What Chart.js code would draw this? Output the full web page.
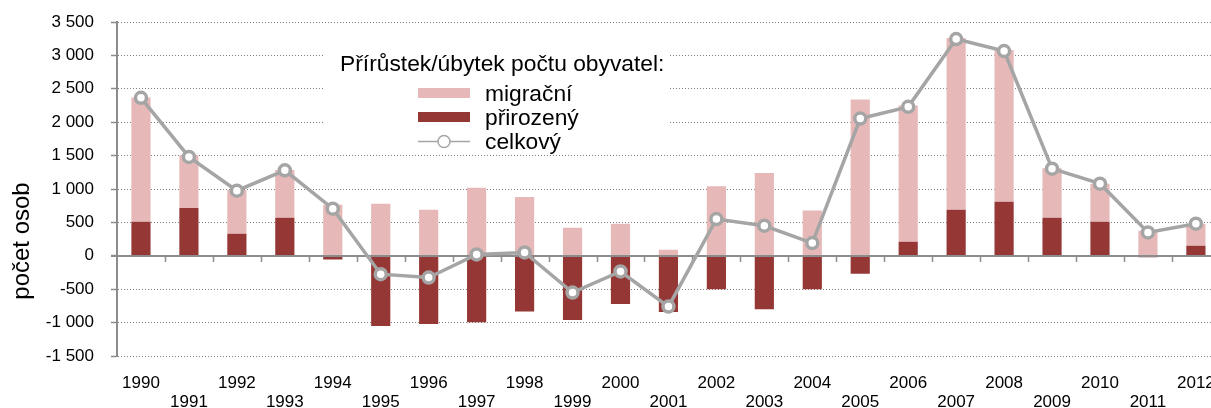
<!DOCTYPE html>
<html>
<head>
<meta charset="utf-8">
<script src="https://cdn.jsdelivr.net/npm/chart.js@4/dist/chart.umd.min.js"></script>
<style>
  html, body { margin: 0; padding: 0; background: #fff; overflow: hidden; }
  #wrap { width: 1233px; height: 408px; }
</style>
</head>
<body>
<div id="wrap"><canvas id="graf" width="1233" height="408"></canvas></div>
<script>
// data
const roky = ['1990','1991','1992','1993','1994','1995','1996','1997','1998','1999','2000','2001',
              '2002','2003','2004','2005','2006','2007','2008','2009','2010','2011','2012'];
const migracni  = [1860, 790, 655, 715, 765, 780, 690, 1020, 880, 420, 480, 90,
                   1040, 1240, 680, 2340, 2040, 2570, 2270, 740, 570, 375, 330];
const prirozeny = [510, 715, 330, 570, -55, -1050, -1020, -995, -835, -960, -720, -840,
                   -500, -800, -500, -270, 210, 690, 810, 570, 510, -20, 150];
const celkovy   = [2365, 1480, 975, 1280, 705, -275, -325, 20, 50, -550, -235, -760,
                   550, 450, 190, 2055, 2230, 3245, 3065, 1305, 1080, 350, 480];
const legendaNadpis = 'Přírůstek/úbytek počtu obyvatel:';
const osaNadpis = 'počet osob';

const FONT = 'Liberation Sans, Arial, sans-serif';
const SEDA = '#a5a5a5';
const OSA = '#8c8c8c';

// cislo s mezerou jako oddelovac tisicu
function formatCislo(v) {
    var s = String(Math.abs(v)).replace(/\B(?=(\d{3})+(?!\d))/g, ' ');
    return (v < 0 ? '-' : '') + s;
}

// nulova osa + carky mezi kategoriemi (kresli se pres sloupce, pod carou)
const nulovaOsa = {
    id: 'nulovaOsa',
    beforeDatasetDraw(chart, args) {
        if (args.meta.type !== 'line') return;
        const ctx = chart.ctx;
        const x = chart.scales.x, y = chart.scales.y;
        const y0 = Math.round(y.getPixelForValue(0));
        ctx.save();
        ctx.strokeStyle = OSA;
        ctx.lineWidth = 2;
        ctx.beginPath();
        ctx.moveTo(x.left - 6, y0);
        ctx.lineTo(x.right, y0);
        ctx.stroke();
        ctx.lineWidth = 1.5;
        for (let i = 1; i < roky.length; i++) {
            const px = Math.round((x.getPixelForTick(i - 1) + x.getPixelForTick(i)) / 2) + 0.5;
            ctx.beginPath();
            ctx.moveTo(px, y0);
            ctx.lineTo(px, y0 + 6);
            ctx.stroke();
        }
        ctx.restore();
    }
};

// legenda uvnitr grafu + popisek osy y
const legenda = {
    id: 'legenda',
    afterDraw(chart) {
        const ctx = chart.ctx;
        const ds = chart.data.datasets;
        ctx.save();
        ctx.fillStyle = '#fff';
        ctx.fillRect(325, 40, 345, 111);
        ctx.fillStyle = '#000';
        ctx.font = '22.8px ' + FONT;
        ctx.textBaseline = 'alphabetic';
        ctx.fillText(legendaNadpis, 340, 71);
        // migracni, prirozeny, celkovy
        const poradi = [1, 0, 2];
        poradi.forEach(function(k, i) {
            const d = ds[k];
            const yc = 93 + i * 24;
            if (d.type === 'line') {
                ctx.strokeStyle = d.borderColor;
                ctx.lineWidth = 1.5;
                ctx.beginPath();
                ctx.moveTo(418, yc + 0.5);
                ctx.lineTo(470, yc + 0.5);
                ctx.stroke();
                ctx.beginPath();
                ctx.arc(444, yc + 0.5, 6, 0, Math.PI * 2);
                ctx.fillStyle = '#fff';
                ctx.fill();
                ctx.stroke();
            } else {
                ctx.fillStyle = d.backgroundColor;
                ctx.fillRect(418, yc - 5, 52, 10);
            }
            ctx.fillStyle = '#000';
            ctx.fillText(d.label, 485, yc + 8);
        });
        // popisek osy y
        ctx.translate(22, 241);
        ctx.rotate(-Math.PI / 2);
        ctx.textAlign = 'center';
        ctx.textBaseline = 'middle';
        ctx.font = '24px ' + FONT;
        ctx.fillText(osaNadpis, 0, 0);
        ctx.restore();
    }
};

const graf = new Chart(document.getElementById('graf').getContext('2d'), {
    type: 'bar',
    data: {
        labels: roky,
        datasets: [{
            label: 'přirozený',
            data: prirozeny,
            backgroundColor: '#953735',
            barPercentage: 0.4,
            categoryPercentage: 1,
            order: 1
        }, {
            label: 'migrační',
            data: migracni,
            backgroundColor: '#e6b9b8',
            barPercentage: 0.4,
            categoryPercentage: 1,
            order: 1
        }, {
            type: 'line',
            label: 'celkový',
            data: celkovy,
            stack: 'celkem',
            borderColor: SEDA,
            borderWidth: 3.5,
            pointRadius: 5.5,
            pointBorderWidth: 3.5,
            pointBackgroundColor: '#fff',
            pointBorderColor: SEDA,
            tension: 0,
            order: 0
        }]
    },
    options: {
        responsive: false,
        devicePixelRatio: 1,
        animation: false,
        layout: { padding: { top: 22, right: 3, left: 0, bottom: 0 } },
        plugins: {
            legend: { display: false },
            tooltip: { enabled: false }
        },
        scales: {
            x: {
                stacked: true,
                grid: { display: false, drawTicks: false },
                border: { display: false },
                afterFit: function(s) { s.height = 52; },
                ticks: {
                    color: '#000',
                    font: { family: FONT, size: 17, lineHeight: 1.1 },
                    maxRotation: 0,
                    autoSkip: false,
                    padding: 18,
                    callback: function(v, i) {
                        return i % 2 ? ['', roky[i]] : roky[i];
                    }
                }
            },
            y: {
                stacked: true,
                min: -1500,
                max: 3500,
                afterFit: function(s) {
                    s.width = 117;
                    s.paddingTop = 0;
                    s.paddingBottom = 0;
                },
                ticks: {
                    stepSize: 500,
                    color: '#000',
                    padding: 17,
                    font: { family: FONT, size: 17 },
                    callback: function(v) { return formatCislo(v); }
                },
                grid: {
                    color: '#7f7f7f',
                    lineWidth: 1,
                    tickLength: 6,
                    tickColor: OSA,
                    tickWidth: 1.5,
                    tickBorderDash: []
                },
                border: { color: OSA, width: 2, dash: [1, 2] }
            }
        }
    },
    plugins: [nulovaOsa, legenda]
});
</script>
</body>
</html>
